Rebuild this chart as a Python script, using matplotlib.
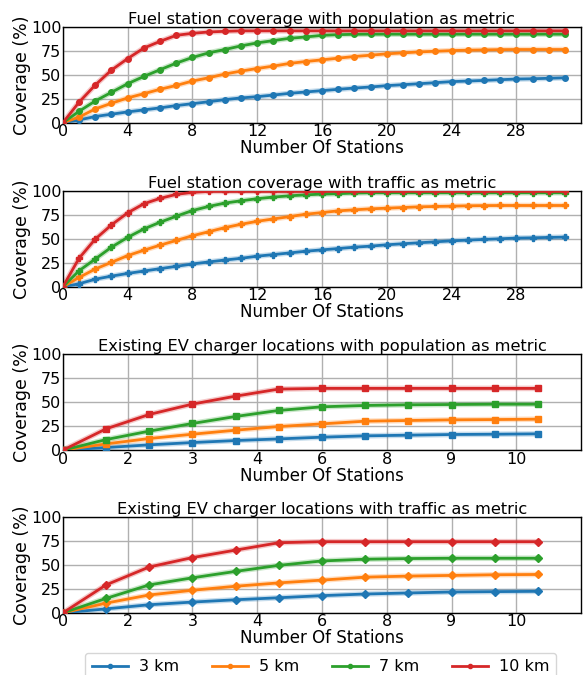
import matplotlib
matplotlib.use("Agg")
import matplotlib.pyplot as plt

# radius labels and colours
radii = ["3 km", "5 km", "7 km", "10 km"]
colors = ["#1f77b4", "#ff7f0e", "#2ca02c", "#d62728"]

# fuel stations, x = 0..31
fuel_x = list(range(32))
fuel_pop = {
    "3 km": [0, 3, 6.6, 9, 11.4, 13.5, 15.6, 18, 20, 22, 24.2, 26, 27.3, 29, 30.8, 32.2,
             33.6, 35, 36.3, 37.4, 38.8, 39.8, 40.8, 41.9, 43, 43.6, 44.3, 45, 45.7, 46, 46.5, 47],
    "5 km": [0, 6, 14.5, 20.4, 26, 30.4, 35, 39, 43.6, 47, 50.9, 54, 56.7, 59.2, 62, 64,
             65.7, 67.5, 69.2, 70.6, 72, 73, 74, 74.7, 75.4, 75.8, 76.1, 76.4, 76.5, 76.5, 76.5, 76.5],
    "7 km": [0, 12, 22.8, 31.8, 40.8, 48.4, 55.4, 62.3, 68.2, 73, 76.5, 80.3, 83.4, 85.8, 88.2, 89.6,
             91.3, 92, 92.4, 92.5, 92.5, 92.5, 92.5, 92.5, 92.5, 92.5, 92.5, 92.5, 92.5, 92.5, 92.5, 92.5],
    "10 km": [0, 21.5, 39.4, 55, 67, 78, 85, 91.3, 93.4, 94.8, 95.5, 96, 96, 96, 96, 96,
              96, 96, 96, 96, 96, 96, 96, 96, 96, 96, 96, 96, 96, 96, 96, 96],
}
fuel_traffic = {
    "3 km": [0, 3.2, 8, 11.2, 14, 16.5, 19, 21.4, 23.9, 26, 28, 29.8, 32, 33.7, 35.4, 37.2,
             38.6, 40, 41.4, 42.5, 43.9, 45, 46, 47, 48, 48.8, 49.5, 50.2, 50.9, 51.2, 51.6, 51.9],
    "5 km": [0, 9.8, 18.6, 25.6, 32.6, 38.2, 43.5, 48.4, 53.3, 57.5, 61.8, 65.3, 68.4, 70.9, 73.3, 75.8,
             77.5, 79.3, 80.4, 81.4, 82.1, 82.8, 83.5, 83.9, 84.2, 84.6, 84.8, 84.9, 84.9, 84.9, 84.9, 84.9],
    "7 km": [0, 16.8, 29, 41.4, 51.6, 60.4, 67.4, 73.7, 79.6, 83.9, 87.4, 89.8, 92, 93.7, 95, 96,
             96.8, 97.2, 97.9, 98.2, 98.2, 98.2, 98.2, 98.2, 98.2, 98.2, 98.2, 98.2, 98.2, 98.2, 98.2, 98.2],
    "10 km": [0, 29.8, 49.8, 64.6, 77.2, 86.7, 92.3, 96.5, 98.6, 99.6, 99.6, 99.6, 99.6, 99.6, 99.6, 99.6,
              99.6, 99.6, 99.6, 99.6, 99.6, 99.6, 99.6, 99.6, 99.6, 99.6, 99.6, 99.6, 99.6, 99.6, 99.6, 99.6],
}

# existing EV chargers, x = 0..11
ev_x = list(range(12))
ev_pop = {
    "3 km": [0, 2.8, 5.6, 8, 10.1, 11.8, 13.6, 15, 15.7, 16.4, 16.7, 17.1],
    "5 km": [0, 6.6, 12.2, 16.7, 20.9, 24.7, 27.5, 30.3, 31, 31.7, 32, 32.4],
    "7 km": [0, 11.1, 19.9, 27.9, 35.2, 41.5, 45.3, 46.7, 47.4, 47.7, 48, 48],
    "10 km": [0, 22.3, 37.3, 48.1, 56.4, 63.8, 64.5, 64.5, 64.5, 64.5, 64.5, 64.5],
}
ev_traffic = {
    "3 km": [0, 4.2, 8.5, 11.3, 13.7, 15.8, 18, 19.7, 20.8, 21.8, 22.2, 22.5],
    "5 km": [0, 10.2, 18.7, 23.6, 27.8, 31.3, 34.2, 37.3, 38.4, 39.1, 39.8, 40.1],
    "7 km": [0, 15.1, 29.2, 36.6, 43.3, 49.6, 54.2, 56, 56.7, 57, 57, 57],
    "10 km": [0, 29.2, 47.9, 57.7, 65.5, 73.2, 74.3, 74.3, 74.3, 74.3, 74.3, 74.3],
}

fuel_ticks = [0, 4, 8, 12, 16, 20, 24, 28]
ev_ticks = [0, 1.5, 3, 4.5, 6, 7.5, 9, 10.5]
ev_ticklabels = ["0", "2", "3", "4", "6", "8", "9", "10"]

panels = [
    ("Fuel station coverage with population as metric", fuel_x, fuel_pop, "o", 32, fuel_ticks, None),
    ("Fuel station coverage with traffic as metric", fuel_x, fuel_traffic, "P", 32, fuel_ticks, None),
    ("Existing EV charger locations with population as metric", ev_x, ev_pop, "s", 12, ev_ticks, ev_ticklabels),
    ("Existing EV charger locations with traffic as metric", ev_x, ev_traffic, "D", 12, ev_ticks, ev_ticklabels),
]

fig = plt.figure(figsize=(5.87, 6.75), dpi=100)
bottoms = [0.818, 0.575, 0.333, 0.092]
for (title, xs, series, marker, xmax, ticks, labels), b in zip(panels, bottoms):
    ax = fig.add_axes([0.107, b, 0.883, 0.142])
    for name, c in zip(radii, colors):
        # faint halo under each line
        ax.plot(xs, series[name], color=c, lw=4, alpha=0.25, zorder=2)
        ax.plot(xs, series[name], color=c, lw=2, marker=marker, ms=4, zorder=3, label=name)
    ax.set_xlim(0, xmax)
    ax.set_ylim(0, 100)
    ax.set_yticks([0, 25, 50, 75, 100])
    ax.set_xticks(ticks)
    if labels is not None:
        ax.set_xticklabels(labels)
    ax.grid(True, color="#b0b0b0", lw=1)
    ax.set_axisbelow(True)
    ax.tick_params(length=0, pad=1, labelsize=11.5)
    for s in ax.spines.values():
        s.set_color("black")
        s.set_linewidth(1)
    ax.set_title(title, fontsize=11.7, pad=2)
    ax.set_xlabel("Number Of Stations", fontsize=12, labelpad=0)
    ax.set_ylabel("Coverage (%)", fontsize=12.5, labelpad=0)

legend_handles = [plt.Line2D([], [], color=c, lw=2, marker=".", ms=6) for c in colors]
fig.legend(legend_handles, radii, loc="upper center", ncol=4, bbox_to_anchor=(0.546, 0.033),
           fontsize=11.5, frameon=True, handlelength=2.25, handletextpad=0.7,
           columnspacing=2.05, borderpad=0.4, borderaxespad=0)

fig.savefig("out.png", dpi=100)
